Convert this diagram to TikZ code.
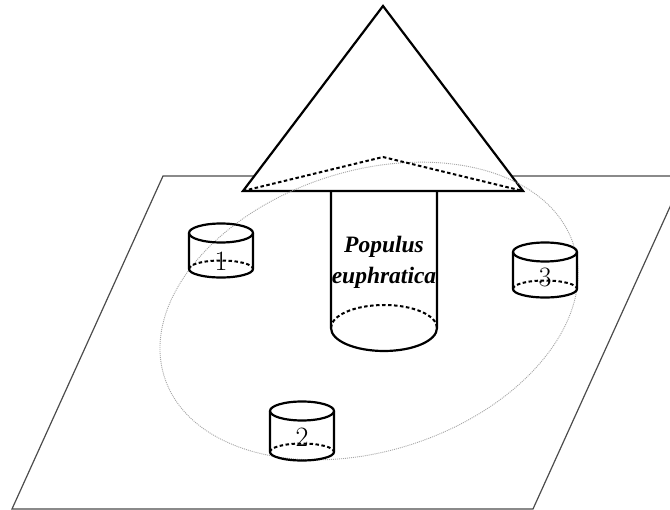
\documentclass[tikz,border=0pt]{standalone}
\usepackage{fontspec}
\newfontfamily\timesfont{Liberation Serif}
\begin{document}
\begin{tikzpicture}[x=1pt,y=-1pt,
  ink/.style={line width=2.2pt, black, line join=miter},
  hidden/.style={line width=2pt, black, dash pattern=on 3.5pt off 2.5pt},
  ground/.style={line width=1.2pt, black!70},
  zone/.style={line width=0.9pt, black!35, dash pattern=on 1pt off 1pt},
  digit/.style={inner sep=0pt, font=\fontsize{28}{30}\selectfont},
  species/.style={inner sep=0pt, align=center,
    font=\timesfont\bfseries\itshape\fontsize{23.5}{31}\selectfont}]
\useasboundingbox (0,0) rectangle (670,510);

% ground plane
\begin{scope}
  \clip (0,0) rectangle (670,510);
  \draw[ground] (163,176) -- (684,176) -- (533,509) -- (12,509) -- cycle;
\end{scope}

% crown
\draw[ink, fill=white] (243,191) -- (383,6) -- (523,191) -- cycle;

% root zone
\coordinate (zc) at (369,311);
\draw[zone, rotate around={18:(zc)}] (zc) ellipse [x radius=215, y radius=140];

% hidden back edges of the crown
\draw[hidden] (243,191) -- (383,157) -- (523,191);

% trunk
\draw[ink] (331,192) -- (331,328) arc[start angle=180, end angle=0, x radius=53, y radius=23] -- (437,192);
\draw[hidden] (331,328) arc[start angle=180, end angle=360, x radius=53, y radius=23];
\node[species] (name) at (384,262) {Populus\\euphratica};

% sampling cans
\foreach \n/\cx/\ty/\by/\ly in {1/221/233/269/261, 3/545/252/289/277, 2/302/411/452/437} {
  \draw[ink] (\cx,\ty) ellipse [x radius=32, y radius=9.5];
  \draw[ink] (\cx-32,\ty) -- (\cx-32,\by) arc[start angle=180, end angle=0, x radius=32, y radius=8.5] -- (\cx+32,\ty);
  \draw[hidden] (\cx-32,\by) arc[start angle=180, end angle=360, x radius=32, y radius=8.5];
  \node[digit] (can\n) at (\cx,\ly) {\n};
}
\end{tikzpicture}
\end{document}
